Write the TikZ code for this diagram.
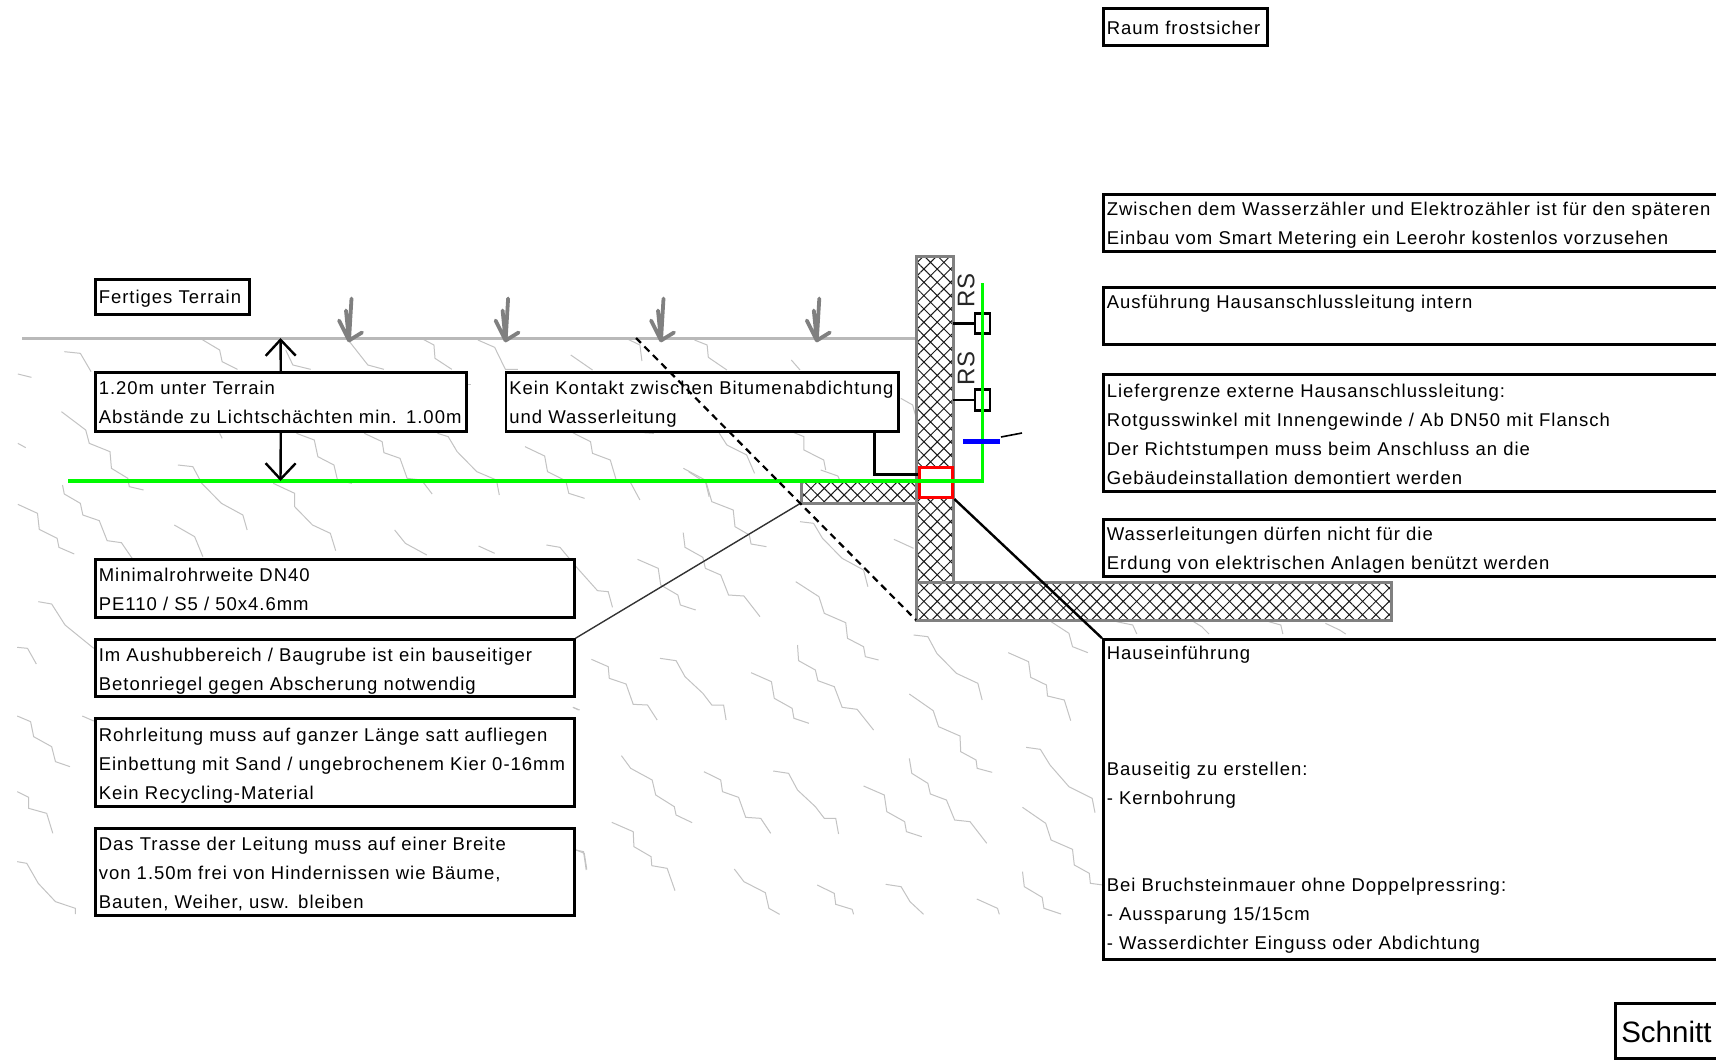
\documentclass[tikz,border=0pt]{standalone}
\usepackage{fontspec}
\setmainfont[LetterSpace=5.3]{Liberation Sans}
\newfontfamily\plainfont{Liberation Sans}
\usetikzlibrary{arrows.meta,patterns.meta,calc}
\definecolor{pipegreen}{RGB}{0,250,0}
\definecolor{soilgray}{RGB}{195,195,195}
\definecolor{terraingray}{RGB}{185,185,185}
\definecolor{wallgray}{RGB}{128,128,128}
\tikzset{
  note/.style={draw=black,line width=2.6pt,fill=white,anchor=north west,inner sep=0pt,inner xsep=3.5pt,align=left,
    font=\fontsize{18.5}{29}\selectfont,text=black,xshift=-1pt,yshift=.8pt},
  W/.style={minimum width=#1pt,text width=#1pt-7pt},
  hatched/.style={draw=wallgray,line width=3pt,anchor=north west,inner sep=0pt,outer sep=0pt,preaction={fill=white},
    pattern={Hatch[angle=45,distance=9.4pt,line width=1pt]},pattern color=black!90},
  zig/.style={draw=soilgray,line width=1pt},
  pipe/.style={draw=pipegreen,line width=3.2pt},
  conn/.style={draw=black,line width=2.4pt},
  dim/.style={draw=black,line width=2.4pt,-{Straight Barb[length=16pt,width=30pt,line width=2.4pt]}},
  plant/.pic={\draw[wallgray,line width=3.8pt,line cap=round,line join=round]
     (2.5,-42)--(0,0) (-3,-30)--(0,0) (-10,-20)--(0,0) (13,-8)--(0,0);}
}
\newcommand\Z[1]{\draw[zig] plot coordinates {#1};}
\newcommand\dn[1]{\rule{0pt}{#1pt}}
\begin{document}
\begin{tikzpicture}[x=1pt,y=-1pt]
\clip (0,0) rectangle (1716,1060);
\fill[white] (0,0) rectangle (1716,1060);
% soil
\begin{scope}
\clip (16,338) -- (916,338) -- (916,620) -- (1391,620) -- (1391,640) -- (1105,640) -- (1105,915) -- (16,915) -- cycle;
\begin{scope}[shift={(0,270)},x=.35714pt,y=-.33333pt]
\Z{(565,208)(615,240)(622,275)(665,298)}
\Z{(180,245)(225,250)(255,305)}
\Z{(50,312)(88,322)}
\Z{(172,425)(240,480)(250,520)(308,545)(312,595)(358,625)(362,650)(402,660)}
\Z{(50,520)(72,533)}
\Z{(175,645)(180,672)(225,700)(232,735)(278,752)(300,812)(340,818)(370,865)}
\Z{(50,703)(105,730)(110,778)(160,805)(165,832)(208,852)}
\Z{(498,585)(540,590)(565,640)(620,700)(680,735)(692,780)}
\Z{(488,765)(545,800)(568,860)}
\Z{(765,640)(825,670)(825,710)(875,765)(925,790)(940,842)}
\Z{(1105,780)(1135,820)(1195,855)}
\Z{(1340,828)(1385,850)}
\Z{(1530,825)(1568,832)}
\Z{(800,240)(820,285)(870,298)}
\Z{(975,210)(1030,285)(1075,298)}
\Z{(1185,208)(1215,225)(1218,265)(1265,298)}
\Z{(1338,210)(1385,232)(1415,298)(1450,298)}
\Z{(830,490)(880,510)(890,560)(935,585)(945,630)(985,640)}
\Z{(1020,490)(1070,515)(1075,548)(1120,565)(1140,625)(1180,630)(1210,672)}
\Z{(1225,490)(1255,500)(1280,545)(1335,605)(1390,630)(1398,675)}
\Z{(1470,530)(1525,558)(1533,605)(1580,630)}
\Z{(1305,342)(1318,342)}
\Z{(615,490)(622,505)}
\end{scope}
\begin{scope}[shift={(300,280)},x=.39526pt,y=-.33333pt]
\Z{(672,600)(680,640)(720,655)}
\Z{(685,225)(740,270)}
\Z{(830,178)(860,195)(865,243)}
\Z{(998,180)(1030,195)(1033,232)(1080,270)}
\Z{(1243,240)(1265,270)}
\Z{(690,458)(735,485)(740,520)(785,540)(800,600)(835,605)(860,660)}
\Z{(1060,458)(1080,495)(1130,525)(1150,580)}
\Z{(1250,458)(1275,470)(1275,510)(1325,540)(1330,570)}
\Z{(970,565)(1025,600)(1035,650)}
\Z{(1520,355)(1550,375)(1565,440)}
\Z{(870,458)(895,460)}
\end{scope}
\begin{scope}[shift={(0,590)},x=.38265pt,y=-.33333pt]
\Z{(100,35)(135,42)(170,105)(245,175)}
\Z{(45,172)(72,175)(95,222)}
\Z{(45,378)(80,395)(88,440)(135,470)(145,515)(183,530)}
\Z{(215,378)(245,393)}
\Z{(45,605)(75,622)(75,655)(122,670)(138,730)}
\Z{(45,815)(70,820)(100,880)(145,935)(197,955)(197,972)}
\Z{(1497,352)(1515,360)}
\Z{(1505,780)(1525,785)(1532,840)}
\end{scope}
\begin{scope}[shift={(560,470)},x=.35714pt,y=-.33333pt]
\Z{(360,5)(410,40)(425,95)(485,120)(490,170)(530,195)(535,222)(578,230)}
\Z{(730,0)(778,18)(785,35)}
\Z{(672,155)(710,160)(735,205)(790,265)(850,300)(862,350)}
\Z{(935,208)(990,235)}
\Z{(345,188)(350,232)(400,262)(407,295)(450,315)(472,375)(515,378)(560,440)}
\Z{(217,268)(275,295)(282,345)(330,375)(337,405)(380,420)}
\Z{(0,232)(45,290)(105,362)(135,365)(147,412)}
\Z{(660,335)(725,380)(740,430)(800,458)(805,505)(850,530)(855,560)(892,570)}
\Z{(990,495)(1030,500)(1055,550)(1110,610)(1170,640)(1182,690)}
\Z{(1255,548)(1312,575)(1318,622)(1362,645)(1365,678)(1412,690)(1430,752)}
\Z{(1375,455)(1425,490)(1435,530)(1478,548)}
\Z{(88,568)(135,590)(138,625)(185,642)(205,703)(245,705)(272,750)}
\Z{(280,565)(325,572)(350,620)(400,670)(425,705)(458,705)(465,750)}
\Z{(535,608)(592,635)(600,685)(650,715)(655,745)(697,760)}
\Z{(665,525)(668,572)(715,600)(722,632)(768,650)(790,712)(832,718)(878,780)}
\Z{(978,672)(1045,722)(1060,770)(1120,798)(1122,845)(1165,870)(1168,895)(1210,907)}
\Z{(1305,832)(1345,838)(1372,885)(1425,950)(1490,985)(1498,1028)}
\Z{(37,712)(52,720)}
\Z{(172,857)(198,895)(258,930)(268,975)(320,1010)(325,1035)(370,1058)}
\Z{(403,905)(450,930)(455,965)(500,982)(520,1042)(562,1045)(590,1090)}
\Z{(597,903)(640,910)(665,960)(715,1010)(740,1045)(772,1045)(780,1092)}
\Z{(850,948)(908,975)(915,1025)(965,1055)(970,1085)(1013,1100)}
\Z{(978,865)(985,910)(1030,940)(1037,972)(1082,990)(1105,1050)(1148,1055)(1195,1120)}
\Z{(1295,1012)(1360,1060)(1375,1110)(1435,1138)(1440,1185)(1482,1210)(1485,1240)(1520,1245)}
\Z{(1295,1205)(1300,1250)(1350,1282)(1355,1315)(1403,1332)}
\Z{(45,1140)(68,1150)(75,1198)}
\Z{(145,1057)(205,1085)(207,1130)(255,1160)(257,1187)(300,1195)(322,1262)}
\Z{(488,1197)(515,1235)(575,1268)(585,1315)(615,1333)}
\Z{(720,1245)(768,1270)(772,1303)(818,1318)(822,1333)}
\Z{(912,1243)(955,1250)(980,1295)(1018,1333)}
\Z{(1167,1287)(1225,1315)(1230,1333)}
\end{scope}
\begin{scope}[shift={(1080,560)},x=.40568pt,y=-.33333pt]
\Z{(90,185)(130,195)(140,222)}
\Z{(280,185)(300,200)(318,222)}
\Z{(465,185)(495,195)(500,222)}
\Z{(605,190)(640,210)(655,222)}
\end{scope}
\end{scope}
% terrain
\coordinate (tl) at (22,338);
\coordinate (tr) at (916,338);
\coordinate (tdim) at (280.5,338);
\coordinate (tdash) at (636,338);
\draw[terraingray,line width=3pt] (tl) -- (tr);
\foreach \px in {349,505.6,661,816.8} \pic at (\px,340.5) {plant};
% structure
\node[hatched,minimum width=37pt,minimum height=326pt] (wall) at (916,256) {};
\node[hatched,minimum width=115pt,minimum height=22pt] (stub) at (801,481) {};
\node[hatched,minimum width=475pt,minimum height=38pt] (slab) at (916,582) {};
\node[draw=red,line width=3pt,fill=white,anchor=north west,inner sep=0pt,minimum width=33.5pt,minimum height=30pt] (seal) at (917.8,466) {};
% notes
\node[note,W=154,minimum height=35pt] (fertig) at (95,279) {\dn{17}Fertiges Terrain};
\node[note,W=371,minimum height=59pt] (tiefe) at (95,372) {\dn{15}1.20m unter Terrain\\Abstände zu Lichtschächten min. 1.00m};
\node[note,W=392.5,minimum height=59pt] (kein) at (505.5,372) {\dn{18}Kein Kontakt zwischen Bitumenabdichtung\\und Wasserleitung};
\node[note,W=479,minimum height=58pt] (rohrw) at (95,559) {\dn{15}Minimalrohrweite DN40\\PE110 / S5 / 50x4.6mm};
\node[note,W=479,minimum height=57pt] (aushub) at (95,639) {\dn{20}Im Aushubbereich / Baugrube ist ein bauseitiger\\Betonriegel gegen Abscherung notwendig};
\node[note,W=479,minimum height=88pt] (bett) at (95,718) {\dn{20}Rohrleitung muss auf ganzer Länge satt aufliegen\\Einbettung mit Sand / ungebrochenem Kier 0-16mm\\Kein Recycling-Material};
\node[note,W=479,minimum height=87pt] (trasse) at (95,828) {\dn{18}Das Trasse der Leitung muss auf einer Breite\\von 1.50m frei von Hindernissen wie Bäume,\\Bauten, Weiher, usw. bleiben};
\node[note,W=164,minimum height=37pt] (raum) at (1103,8) {\dn{15}Raum frostsicher};
\node[note,W=640,minimum height=57pt] (smart) at (1103,194) {\dn{17.5}Zwischen dem Wasserzähler und Elektrozähler ist für den späteren\\Einbau vom Smart Metering ein Leerohr kostenlos vorzusehen};
\node[note,W=640,minimum height=57pt] (intern) at (1103,287) {\dn{14.5}Ausführung Hausanschlussleitung intern\\\mbox{}};
\node[note,W=640,minimum height=117pt] (liefer) at (1103,374) {\dn{16}Liefergrenze externe Hausanschlussleitung:\\Rotgusswinkel mit Innengewinde / Ab DN50 mit Flansch\\Der Richtstumpen muss beim Anschluss an die\\Gebäudeinstallation demontiert werden};
\node[note,W=640,minimum height=57pt] (erdung) at (1103,519) {\dn{17.5}Wasserleitungen dürfen nicht für die\\Erdung von elektrischen Anlagen benützt werden};
\node[note,W=640,minimum height=320pt] (haus) at (1103,639) {Hauseinführung\\\mbox{}\\\mbox{}\\\mbox{}\\Bauseitig zu erstellen:\\- Kernbohrung\\\mbox{}\\\mbox{}\\Bei Bruchsteinmauer ohne Doppelpressring:\\- Aussparung 15/15cm\\- Wasserdichter Einguss oder Abdichtung};
\node[note,W=140,minimum height=55pt,inner xsep=6pt,font=\plainfont\fontsize{29.5}{32}\selectfont] (schnitt) at (1615,1003) {\dn{24}Schnitt};
% fittings
\node[draw=black,line width=2.6pt,anchor=north west,inner sep=0pt,minimum width=15pt,minimum height=20pt] (rs1) at (973.5,312) {};
\node[draw=black,line width=2.6pt,anchor=north west,inner sep=0pt,minimum width=15pt,minimum height=21pt] (rs2) at (973.5,388) {};
\node[rotate=90,inner sep=0pt,font=\plainfont\fontsize{24}{24}\selectfont,text=black!85] (rstxt1) at (966,290.5) {RS};
\node[rotate=90,inner sep=0pt,font=\plainfont\fontsize{24}{24}\selectfont,text=black!85] (rstxt2) at (966,368.5) {RS};
\coordinate (pipel) at (68,481);
\coordinate (pipec) at (982.5,481);
\coordinate (pipet) at (982.5,283);
\draw[pipe] (pipel) -- (pipec) -- (pipet);
\draw[conn] (rs1.west) -- (rs1.west -| wall.east);
\draw[conn] (rs2.west) -- (rs2.west -| wall.east);
% valve mark
\coordinate (bl) at (963,441);
\coordinate (br) at (1000,441);
\coordinate (ta) at (1001,437);
\coordinate (tb) at (1022,433);
\draw[blue,line width=5pt] (bl) -- (br);
\draw[black,line width=1.6pt] (ta) -- (tb);
% connectors
\draw[dim] (tiefe.north) -- (tdim);
\coordinate (pdim) at (280.5,481);
\draw[dim] (tiefe.south) -- (pdim);
\draw[conn] ([xshift=370pt]kein.south west) |- ([yshift=8pt]seal.west);
\draw[conn] (seal.south east) -- (haus.north west);
\draw[black!80,line width=1.4pt] (aushub.north east) -- (stub.south west);
\draw[black,line width=2.2pt,dash pattern=on 7pt off 5pt] (tdash) -- (slab.south west);
\end{tikzpicture}
\end{document}
